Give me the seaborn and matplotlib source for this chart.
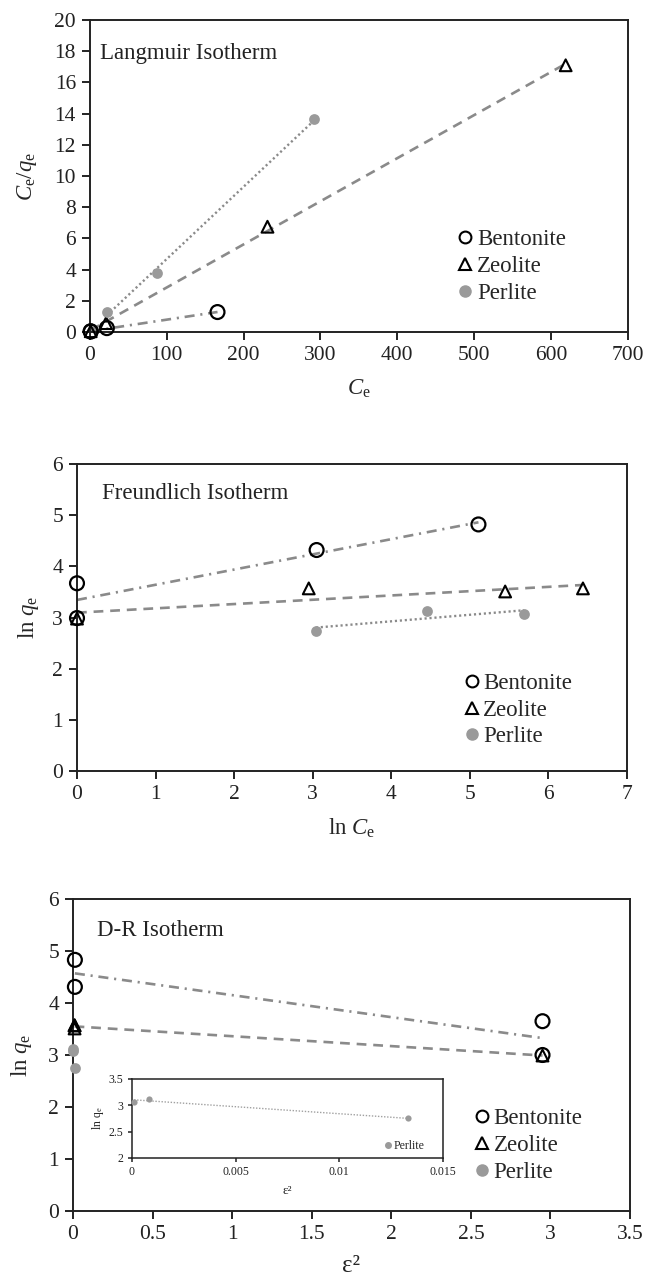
import matplotlib
matplotlib.use("Agg")
import matplotlib.pyplot as plt
import seaborn as sns
import numpy as np
from matplotlib.lines import Line2D

# ---------------- data ----------------
materials = ["Bentonite", "Zeolite", "Perlite"]

# Langmuir: Ce vs Ce/qe
lang_bent_x = [1, 1, 22, 166]
lang_bent_y = [0.03, 0.05, 0.25, 1.28]
lang_zeo_x = [1, 21, 231, 619]
lang_zeo_y = [0.05, 0.57, 6.75, 17.1]
lang_per_x = [22, 87, 292]
lang_per_y = [1.3, 3.78, 13.65]

# Freundlich: ln Ce vs ln qe
fr_bent_x = [0, 0, 3.05, 5.11]
fr_bent_y = [2.99, 3.67, 4.32, 4.82]
fr_zeo_x = [0, 2.95, 5.45, 6.44]
fr_zeo_y = [2.98, 3.57, 3.51, 3.57]
fr_per_x = [3.04, 4.45, 5.69]
fr_per_y = [2.74, 3.12, 3.07]

# D-R: eps^2 vs ln qe
dr_bent_x = [0.012, 0.012, 2.95, 2.95]
dr_bent_y = [4.83, 4.31, 3.65, 3.0]
dr_zeo_x = [0.01, 0.01, 0.01, 2.95]
dr_zeo_y = [3.57, 3.51, 3.57, 2.99]
dr_per_x = [0.0001, 0.0008, 0.0133]
dr_per_y = [3.07, 3.12, 2.75]

# ---------------- style ----------------
sns.set_theme(style="ticks")
plt.rcParams["font.family"] = ["Liberation Serif", "DejaVu Serif"]
plt.rcParams["mathtext.fontset"] = "custom"
plt.rcParams["mathtext.rm"] = "Liberation Serif"
plt.rcParams["mathtext.it"] = "Liberation Serif:italic"
plt.rcParams["axes.edgecolor"] = "#222222"
plt.rcParams["axes.linewidth"] = 1.4

LINE_GRAY = "#8a8a8a"
DOT_GRAY = "#9a9a9a"
TICK_FS = 15.5
LAB_FS = 16.5
LEG_FS = 16.5

fig = plt.figure(figsize=(6.47, 12.77), dpi=100)
ax1 = fig.add_axes([0.139, 0.740, 0.8315, 0.2443])
ax2 = fig.add_axes([0.119, 0.3962, 0.850, 0.2404])
ax3 = fig.add_axes([0.1128, 0.0517, 0.861, 0.2443])
axin = fig.add_axes([0.204, 0.0932, 0.4807, 0.0619])

LS_BENT = (0, (3.8, 2.2, 0.8, 2.2))
LS_ZEO = (0, (3.7, 2.6))
LS_PER = (0, (0.9, 1.2))


def trend(ax, x, y, ls, lw=1.9, color=LINE_GRAY):
    sns.regplot(x=np.array(x, float), y=np.array(y, float), ax=ax, scatter=False,
                ci=None, truncate=True, color=color,
                line_kws=dict(linestyle=ls, linewidth=lw, zorder=2))


def points(ax, x, y, kind, s=None):
    if kind == "Bentonite":
        sns.scatterplot(x=x, y=y, ax=ax, marker="o", s=s or 100, facecolor="none",
                        edgecolor="black", linewidth=1.6, zorder=4, clip_on=False)
    elif kind == "Zeolite":
        sns.scatterplot(x=x, y=y, ax=ax, marker="^", s=s or 72, facecolor="none",
                        edgecolor="black", linewidth=1.5, zorder=4, clip_on=False)
    else:
        sns.scatterplot(x=x, y=y, ax=ax, marker="o", s=s or 60, color=DOT_GRAY,
                        edgecolor=DOT_GRAY, linewidth=0, zorder=4, clip_on=False)


def legend(ax, anchor):
    handles = [
        Line2D([], [], ls="none", marker="o", ms=8.5, mfc="none", mec="black", mew=1.5),
        Line2D([], [], ls="none", marker="^", ms=8, mfc="none", mec="black", mew=1.5),
        Line2D([], [], ls="none", marker="o", ms=8, mfc=DOT_GRAY, mec=DOT_GRAY),
    ]
    ax.legend(handles, materials, loc="upper left", bbox_to_anchor=anchor,
              frameon=False, fontsize=LEG_FS, handlelength=0.7, handletextpad=0.15,
              labelspacing=0.25, borderpad=0, borderaxespad=0)


def style(ax):
    for sp in ax.spines.values():
        sp.set_visible(True)
        sp.set_color("#222222")
        sp.set_linewidth(1.4)
    ax.tick_params(axis="both", direction="out", length=6, width=1.4,
                   labelsize=TICK_FS, colors="#222222", pad=4)
    ax.tick_params(top=False, right=False)


# ---------------- Langmuir ----------------
trend(ax1, lang_bent_x, lang_bent_y, LS_BENT)
trend(ax1, lang_zeo_x, lang_zeo_y, LS_ZEO)
trend(ax1, lang_per_x, lang_per_y, LS_PER, lw=1.7)
points(ax1, lang_bent_x, lang_bent_y, "Bentonite")
points(ax1, lang_zeo_x, lang_zeo_y, "Zeolite")
points(ax1, lang_per_x, lang_per_y, "Perlite")
ax1.set_xlim(0, 700)
ax1.set_ylim(0, 20)
ax1.set_xticks(range(0, 701, 100))
ax1.set_yticks(range(0, 21, 2))
ax1.set_xlabel(r"$C_\mathrm{e}$", fontsize=LAB_FS, labelpad=9)
ax1.set_ylabel(r"$C_\mathrm{e}/q_\mathrm{e}$", fontsize=LAB_FS, labelpad=11)
ax1.text(0.019, 0.894, "Langmuir Isotherm", transform=ax1.transAxes,
         fontsize=16.5, va="center", ha="left", color="#222222")
legend(ax1, (0.683, 0.33))
style(ax1)

# ---------------- Freundlich ----------------
trend(ax2, fr_bent_x, fr_bent_y, LS_BENT)
trend(ax2, fr_zeo_x, fr_zeo_y, LS_ZEO)
trend(ax2, fr_per_x, fr_per_y, LS_PER, lw=1.7)
points(ax2, fr_bent_x, fr_bent_y, "Bentonite")
points(ax2, fr_zeo_x, fr_zeo_y, "Zeolite")
points(ax2, fr_per_x, fr_per_y, "Perlite")
ax2.set_xlim(0, 7)
ax2.set_ylim(0, 6)
ax2.set_xticks(range(0, 8))
ax2.set_yticks(range(0, 7))
ax2.set_xlabel(r"ln $C_\mathrm{e}$", fontsize=LAB_FS, labelpad=9)
ax2.set_ylabel(r"ln $q_\mathrm{e}$", fontsize=LAB_FS, labelpad=8)
ax2.text(0.045, 0.905, "Freundlich Isotherm", transform=ax2.transAxes,
         fontsize=16.5, va="center", ha="left", color="#222222")
legend(ax2, (0.703, 0.32))
style(ax2)

# ---------------- D-R ----------------
trend(ax3, dr_bent_x, dr_bent_y, LS_BENT)
trend(ax3, dr_zeo_x, dr_zeo_y, LS_ZEO)
points(ax3, dr_bent_x, dr_bent_y, "Bentonite")
points(ax3, dr_zeo_x, dr_zeo_y, "Zeolite")
points(ax3, dr_per_x, dr_per_y, "Perlite")
ax3.set_xlim(0, 3.5)
ax3.set_ylim(0, 6)
ax3.set_xticks(np.arange(0, 3.51, 0.5))
ax3.set_xticklabels(["0", "0.5", "1", "1.5", "2", "2.5", "3", "3.5"])
ax3.set_yticks(range(0, 7))
ax3.set_xlabel("ε²", fontsize=18, labelpad=8)
ax3.set_ylabel(r"ln $q_\mathrm{e}$", fontsize=LAB_FS, labelpad=10)
ax3.text(0.043, 0.90, "D-R Isotherm", transform=ax3.transAxes,
         fontsize=16.5, va="center", ha="left", color="#222222")
legend(ax3, (0.72, 0.33))
style(ax3)

# ---------------- inset ----------------
trend(axin, dr_per_x, dr_per_y, (0, (1.0, 1.2)), lw=1.0, color="#a0a0a0")
sns.scatterplot(x=dr_per_x, y=dr_per_y, ax=axin, marker="o", s=20, color=DOT_GRAY,
                edgecolor=DOT_GRAY, linewidth=0, zorder=4, clip_on=False)
axin.set_xlim(0, 0.015)
axin.set_ylim(2, 3.5)
axin.set_xticks([0, 0.005, 0.01, 0.015])
axin.set_xticklabels(["0", "0.005", "0.01", "0.015"])
axin.set_yticks([2, 2.5, 3, 3.5])
axin.set_yticklabels(["2", "2.5", "3", "3.5"])
for sp in axin.spines.values():
    sp.set_visible(True)
    sp.set_color("#222222")
    sp.set_linewidth(1.1)
axin.tick_params(axis="both", direction="out", length=3, width=1.1,
                 labelsize=8.5, colors="#222222", pad=3)
axin.set_xlabel("ε²", fontsize=9.5, labelpad=5)
axin.set_ylabel(r"ln q$_\mathrm{e}$", fontsize=8.5, labelpad=2)
axin.legend([Line2D([], [], ls="none", marker="o", ms=4, mfc=DOT_GRAY, mec=DOT_GRAY)],
            ["Perlite"], loc="lower right", bbox_to_anchor=(0.94, 0.08),
            frameon=False, fontsize=8.5, handlelength=0.6, handletextpad=0.2,
            borderpad=0, borderaxespad=0)

fig.savefig("out.png", dpi=100, facecolor="white")
